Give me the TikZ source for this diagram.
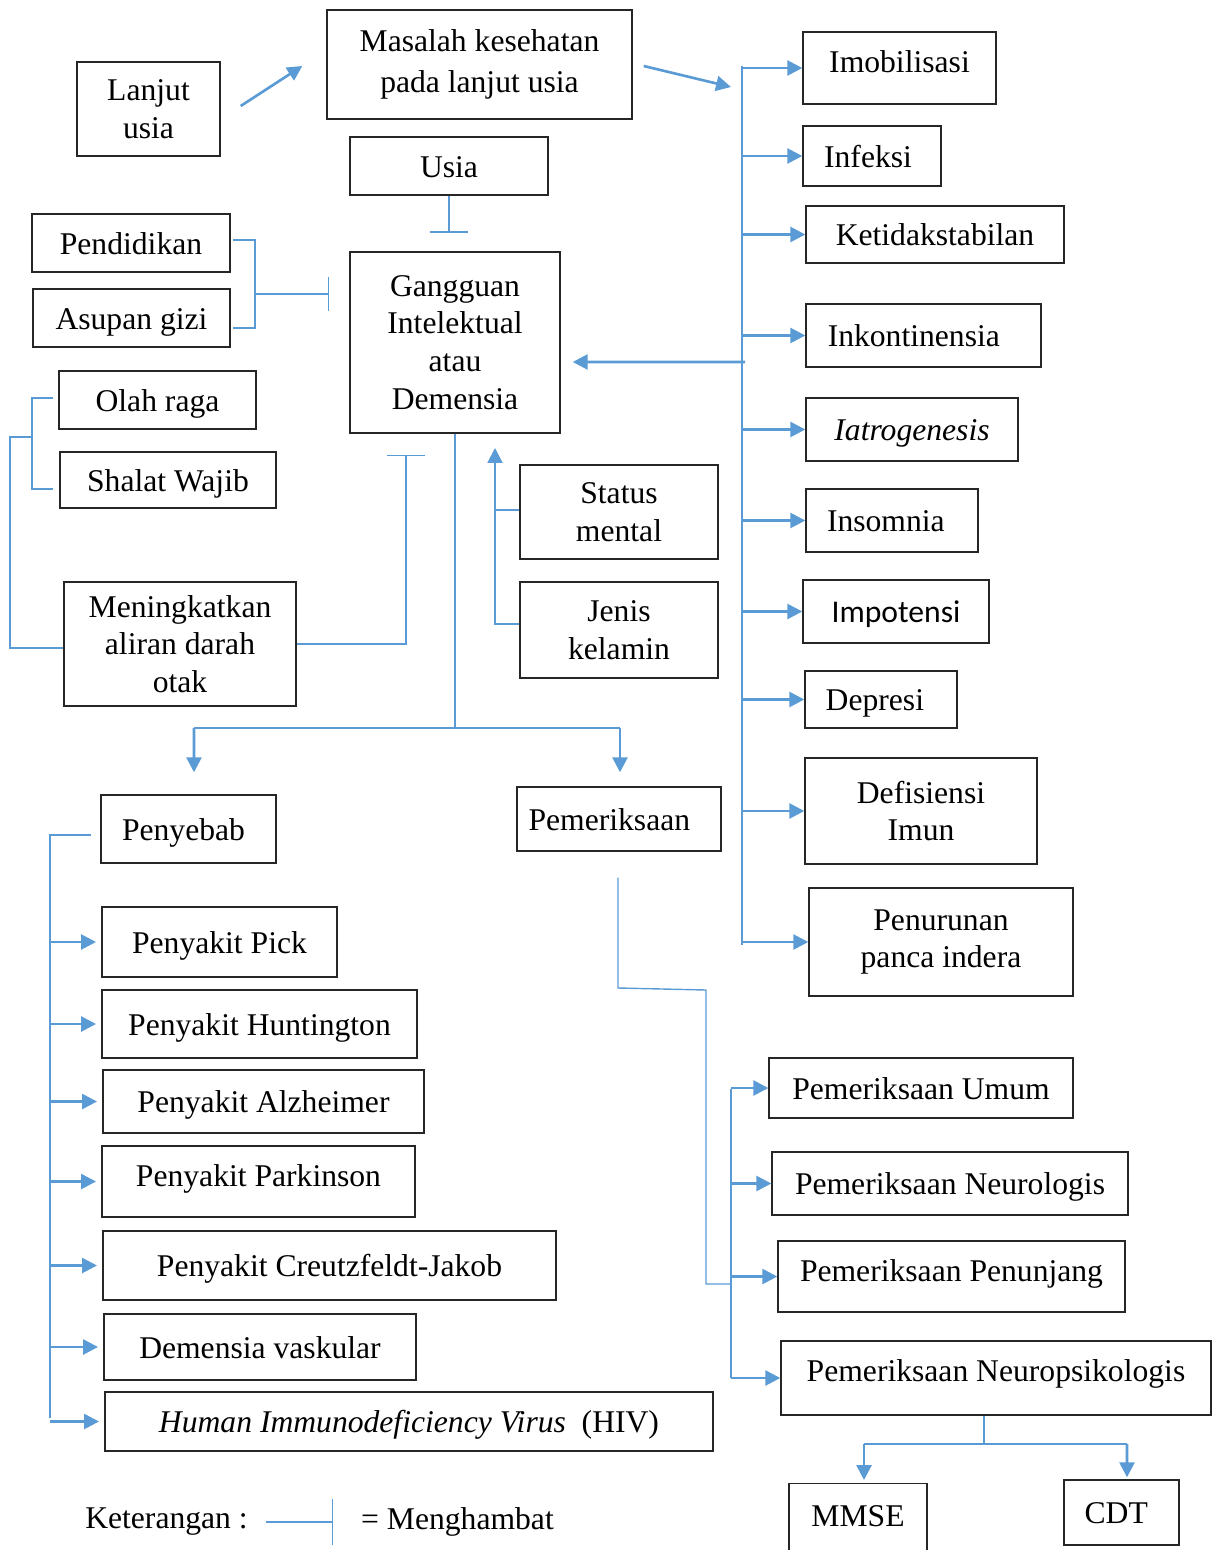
\documentclass[tikz,border=0pt]{standalone}
\usepackage{fontspec}
\setmainfont{Liberation Serif}
\newfontfamily\calibrifont{Carlito}
\usetikzlibrary{arrows.meta,calc}

\definecolor{linkblue}{RGB}{91,155,213}
\newcommand\boxfont{\fontsize{18}{21.5}\selectfont}

\begin{document}
\begin{tikzpicture}[x=0.02cm,y=-0.02cm,
  box/.style={draw=black!85,line width=0.8pt,inner sep=0pt,align=center,font=\boxfont},
  one/.style={box,text height=16.5pt,text depth=3.5pt},
  sz/.style 2 args={minimum width=#1*0.02cm,minimum height=#2*0.02cm},
  lift/.style={text depth=#1},
  thn/.style={draw=linkblue,line width=0.8pt},
  arr/.style={draw=linkblue,line width=1.5pt,-{Triangle[length=8.5pt,width=8.5pt]}},
  inh/.style={thn,-{Bar[width=#1]}},
  lbl/.style={inner sep=0pt,font=\boxfont}]
\useasboundingbox (0,0) rectangle (1219,1550);

% top row
\node[box,sz={143}{94}] (lanjut) at (148.5,109) {Lanjut\\usia};
\node[box,sz={305}{109}] (masalah) at (479.5,64.5) {Masalah kesehatan\\[2pt]pada lanjut usia};
\node[one,sz={198}{58}] (usia) at (449,166) {Usia};

% left factors
\node[one,sz={198}{58}] (pend) at (131,243) {Pendidikan};
\node[one,sz={197}{58}] (asup) at (131.5,318) {Asupan gizi};
\node[box,sz={210}{181}] (gang) at (455,342.5) {Gangguan\\Intelektual\\atau\\Demensia};
\node[one,sz={197}{58}] (olah) at (157.5,400) {Olah raga};
\node[one,sz={216}{56}] (shalat) at (168,480) {Shalat Wajib};
\node[box,sz={232}{124}] (meng) at (180,644) {Meningkatkan\\aliran darah\\otak};
\node[box,sz={198}{94}] (status) at (619,512) {Status\\mental};
\node[box,sz={198}{96}] (jenis) at (619,630) {Jenis\\kelamin};

% penyebab
\node[one,sz={175}{68}] (penyebab) at (188.5,829) {Penyebab\hspace*{5.7pt}};
\node[one,sz={235}{70}] (pick) at (219.5,942) {Penyakit Pick};
\node[one,sz={315}{68}] (hunt) at (259.5,1024) {Penyakit Huntington};
\node[one,sz={321}{63}] (alz) at (263.5,1101.5) {Penyakit Alzheimer};
\node[one,sz={313}{71},lift=10.9pt] (park) at (258.5,1181.5) {Penyakit Parkinson};
\node[one,sz={453}{69}] (creutz) at (329.5,1265.5) {Penyakit Creutzfeldt-Jakob};
\node[one,sz={312}{66}] (demv) at (260,1347) {Demensia vaskular};
\node[one,sz={608}{59}] (hiv) at (409,1421.5) {\textit{Human Immunodeficiency Virus}\ \ (HIV)};

% masalah kesehatan
\node[one,sz={193}{72},lift=11.4pt] (imob) at (899.5,68) {Imobilisasi};
\node[one,sz={138}{60}] (infeksi) at (872,156) {Infeksi\hspace*{4.5pt}};
\node[one,sz={258}{57}] (ketid) at (935,234.5) {Ketidakstabilan};
\node[one,sz={235}{63}] (inkont) at (923.5,335.5) {Inkontinensia\hspace*{11pt}};
\node[one,sz={212}{63}] (iatro) at (912,429.5) {\textit{Iatrogenesis}};
\node[one,sz={172}{63}] (insom) at (892,520.5) {Insomnia\hspace*{7pt}};
\node[one,sz={186}{63},font=\boxfont\calibrifont] (impot) at (896,611.5) {Impotensi};
\node[one,sz={152}{57}] (depresi) at (881,699.5) {Depresi\hspace*{7pt}};
\node[box,sz={232}{106}] (defis) at (921,811) {Defisiensi\\Imun};
\node[box,sz={264}{108}] (penur) at (941,942) {Penurunan\\panca indera};

% pemeriksaan
\node[one,sz={204}{64}] (periksa) at (619,819) {Pemeriksaan\hspace*{11pt}};
\node[one,sz={304}{60}] (pumum) at (921,1088) {Pemeriksaan Umum};
\node[one,sz={356}{63}] (pneuro) at (950,1183.5) {Pemeriksaan Neurologis};
\node[one,sz={347}{71},lift=10.9pt] (ppenun) at (951.5,1276.5) {Pemeriksaan Penunjang};
\node[one,sz={430}{74},lift=12.5pt] (pneurop) at (996,1378) {Pemeriksaan Neuropsikologis};
\node[one,sz={138}{100},lift=24.5pt,anchor=north] (mmse) at (858,1483) {MMSE};
\node[one,sz={115}{65}] (cdt) at (1121.5,1512.5) {CDT\hspace*{6pt}};

% keterangan
\node[lbl] (ket) at (166.5,1522) {Keterangan :};
\node[lbl] (hambat) at (457.5,1522) {= Menghambat};
\draw[inh=26pt] ($(ket.east)+(18,0)$) -- ++(67,0);

% lanjut usia -> masalah -> daftar
\draw[arr] ($(lanjut.east)+(20,-3)$) -- ($(masalah.west)+(-24,1.5)$);
\coordinate (bus) at (742,66);
\draw[arr] ($(masalah.east)+(11,1.5)$) -- ($(bus)+(-11,21)$);
\draw[thn] (bus) -- (742,945);
\foreach \n in {imob,infeksi,ketid,inkont,iatro,insom,impot,depresi,defis,penur}
  \draw[arr] (bus |- \n.west) -- (\n.west);
\coordinate (back) at (745,362);
\draw[arr] (back) -- ($(gang.east)+(12,19.5)$);

% penghambat
\draw[inh=21.5pt] (usia.south) -- ++(0,37);
\draw[thn] ($(pend.east)+(2,-3)$) -| (255,328) -- ($(asup.east)+(2,10)$);
\draw[inh=19pt] (255,294) -- (329,294);
\draw[thn] ($(olah.west)+(-5,-2)$) -| (32,489) -- ($(shalat.west)+(-6,9)$);
\draw[thn] (32,437) -- (10,437) |- ($(meng.west)+(0,4)$);
\draw[inh=21.5pt] (meng.east) -| (406,455);

% status mental, jenis kelamin
\draw[thn] ($(status.west)+(0,-2)$) -- ++(-24,0);
\draw[arr,line width=1.2pt] ($(jenis.west)+(0,-6)$) -| (495,448);

% gangguan -> penyebab, pemeriksaan
\draw[thn] (gang.south) -- (455,728);
\draw[thn,line width=1.2pt] (194,728) -- (620,728);
\draw[arr] (194,728) -- ($(penyebab.north)+(5.5,-22)$);
\draw[arr] (620,728) -- ($(periksa.north)+(1,-14)$);

\coordinate (lb) at (50,835);
\draw[thn] ($(penyebab.west)+(-9,6)$) -- (lb) -- (50,1418);
\foreach \n in {pick,hunt,alz,park,creutz,demv,hiv}
  \draw[arr,shorten >=3pt] (lb |- \n.west) -- (\n.west);

\draw[thn] ($(periksa.south)+(-1,26)$) -- (618,988) -- (706,990) -- (706,1284) -- (731,1284);
\coordinate (rb) at (731,1089);
\draw[thn] (rb) -- (731,1378);
\foreach \n in {pumum,pneuro,ppenun,pneurop}
  \draw[arr] (rb |- \n.west) -- (\n.west);

\draw[thn] ($(pneurop.south)+(-12,0)$) -- (984,1444);
\draw[thn] (864,1444) -- (1127,1444);
\draw[arr] (864,1444) -- ($(mmse.north)+(6,-3)$);
\draw[arr] (1127,1444) -- ($(cdt.north)+(5.5,-2)$);
\end{tikzpicture}
\end{document}
